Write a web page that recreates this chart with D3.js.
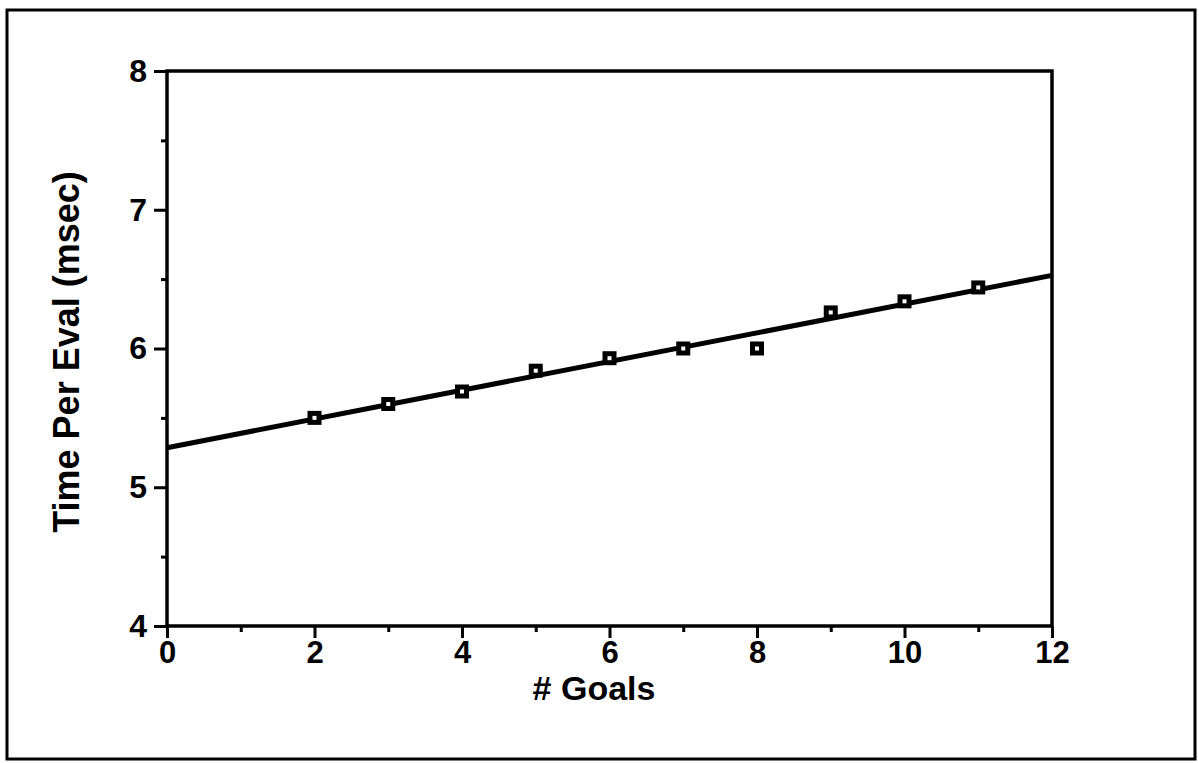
<!DOCTYPE html>
<html><head><meta charset="utf-8">
<script src="https://cdn.jsdelivr.net/npm/d3@7/dist/d3.min.js"></script>
<style>body{margin:0;background:#fff}svg{display:block}</style>
</head><body>
<svg id="c" width="1199" height="763"></svg>
<script>
const goals = [2,3,4,5,6,7,8,9,10,11];
const timePerEval = [5.5,5.6,5.69,5.84,5.93,6.0,6.0,6.26,6.34,6.44];
const fitIntercept = 5.285;
const fitSlope = 0.1035;
const xTicks = [0,2,4,6,8,10,12];
const yTicks = [4,5,6,7,8];

const svg = d3.select("#c");
const font = "'Liberation Sans', Arial, Helvetica, sans-serif";
svg.append("rect").attr("x",7).attr("y",10).attr("width",1188).attr("height",749)
  .attr("fill","none").attr("stroke","#000").attr("stroke-width",3);

const x = d3.scaleLinear().domain([0,12]).range([167,1052]);
const y = d3.scaleLinear().domain([4,8]).range([626,71]);

svg.append("rect").attr("x",x(0)).attr("y",y(8)).attr("width",x(12)-x(0)).attr("height",y(4)-y(8))
  .attr("fill","none").attr("stroke","#000").attr("stroke-width",3.5);

const xAxis = svg.append("g").attr("transform",`translate(0,${y(4)})`)
  .call(d3.axisBottom(x).tickValues(d3.range(0,13,1)).tickSize(6).tickFormat(""));
xAxis.selectAll(".tick line").attr("stroke-width",3)
  .attr("y2", d => d%2===0 ? 12 : 6);
xAxis.select(".domain").remove();
const xLab = svg.append("g").attr("transform",`translate(0,${y(4)})`)
  .call(d3.axisBottom(x).tickValues(xTicks).tickSize(0).tickPadding(15).tickFormat(d3.format("d")));
xLab.select(".domain").remove();
xLab.selectAll("text").attr("font-family",font).attr("font-weight","bold").attr("font-size",31).attr("fill","#000");

const yAxis = svg.append("g").attr("transform",`translate(${x(0)},0)`)
  .call(d3.axisLeft(y).tickValues(d3.range(4,8.01,0.5)).tickSize(6).tickFormat(""));
yAxis.selectAll(".tick line").attr("stroke-width",3)
  .attr("x2", d => Number.isInteger(d) ? -13 : -6);
yAxis.select(".domain").remove();
const yLab = svg.append("g").attr("transform",`translate(${x(0)},0)`)
  .call(d3.axisLeft(y).tickValues(yTicks).tickSize(0).tickPadding(20).tickFormat(d3.format("d")));
yLab.select(".domain").remove();
yLab.selectAll("text").attr("font-family",font).attr("font-weight","bold").attr("font-size",32).attr("fill","#000");

svg.append("line")
  .attr("x1",x(0)).attr("y1",y(fitIntercept))
  .attr("x2",x(12)).attr("y2",y(fitIntercept+fitSlope*12))
  .attr("stroke","#000").attr("stroke-width",5);

svg.append("g").selectAll("rect").data(goals.map((g,i)=>[g,timePerEval[i]])).join("rect")
  .attr("x",d=>x(d[0])-4.5).attr("y",d=>y(d[1])-4.5).attr("width",9).attr("height",9)
  .attr("fill","#fff").attr("stroke","#000").attr("stroke-width",5);

svg.append("text").attr("x",594).attr("y",700).attr("text-anchor","middle")
  .attr("font-family",font).attr("font-weight","bold").attr("font-size",34).text("# Goals");
svg.append("text").attr("transform","translate(79,352) rotate(-90)").attr("text-anchor","middle")
  .attr("font-family",font).attr("font-weight","bold").attr("font-size",36).text("Time Per Eval (msec)");
</script>
</body></html>
